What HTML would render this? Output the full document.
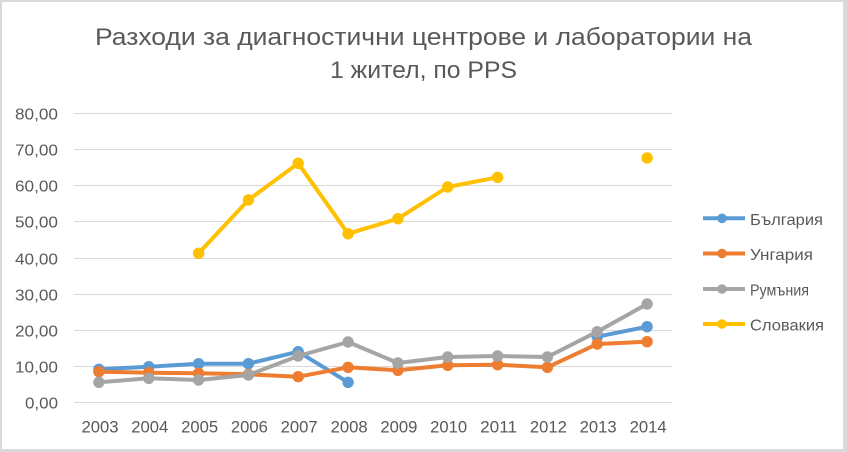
<!DOCTYPE html>
<html>
<head>
<meta charset="utf-8">
<style>
  html,body{margin:0;padding:0;background:#fff;}
  body{width:847px;height:452px;overflow:hidden;}
  svg{display:block;}
  text{font-family:"Liberation Sans","DejaVu Sans",sans-serif;fill:#595959;}
</style>
</head>
<body>
<svg width="847" height="452" viewBox="0 0 847 452" xmlns="http://www.w3.org/2000/svg">
  <!-- background + border -->
  <rect x="0" y="0" width="847" height="452" fill="#d9d9d9"/>
  <rect x="2" y="2" width="841" height="447" fill="#ffffff"/>

  <!-- title -->
  <text x="423.5" y="45" font-size="24" text-anchor="middle" textLength="657" lengthAdjust="spacingAndGlyphs">Разходи за диагностични центрове и лаборатории на</text>
  <text x="423.5" y="78" font-size="24" text-anchor="middle" textLength="187" lengthAdjust="spacingAndGlyphs">1 жител, по PPS</text>

  <!-- gridlines -->
  <g stroke="#d9d9d9" stroke-width="1">
    <line x1="74" x2="672" y1="113.5" y2="113.5"/>
    <line x1="74" x2="672" y1="149.5" y2="149.5"/>
    <line x1="74" x2="672" y1="185.5" y2="185.5"/>
    <line x1="74" x2="672" y1="221.5" y2="221.5"/>
    <line x1="74" x2="672" y1="258.5" y2="258.5"/>
    <line x1="74" x2="672" y1="294.5" y2="294.5"/>
    <line x1="74" x2="672" y1="330.5" y2="330.5"/>
    <line x1="74" x2="672" y1="366.5" y2="366.5"/>
    <line x1="74" x2="672" y1="402.5" y2="402.5"/>
  </g>

  <!-- y labels -->
  <g font-size="16" text-anchor="end">
    <text x="58" y="119.5" textLength="43" lengthAdjust="spacingAndGlyphs">80,00</text>
    <text x="58" y="155.5" textLength="43" lengthAdjust="spacingAndGlyphs">70,00</text>
    <text x="58" y="191.5" textLength="43" lengthAdjust="spacingAndGlyphs">60,00</text>
    <text x="58" y="227.5" textLength="43" lengthAdjust="spacingAndGlyphs">50,00</text>
    <text x="58" y="264.5" textLength="43" lengthAdjust="spacingAndGlyphs">40,00</text>
    <text x="58" y="300.5" textLength="43" lengthAdjust="spacingAndGlyphs">30,00</text>
    <text x="58" y="336.5" textLength="43" lengthAdjust="spacingAndGlyphs">20,00</text>
    <text x="58" y="372.5" textLength="43" lengthAdjust="spacingAndGlyphs">10,00</text>
    <text x="58" y="408.5" textLength="33" lengthAdjust="spacingAndGlyphs">0,00</text>
  </g>

  <!-- x labels -->
  <g font-size="16.5" text-anchor="middle">
    <text x="100" y="432.5" textLength="37" lengthAdjust="spacingAndGlyphs">2003</text>
    <text x="149.8" y="432.5" textLength="37" lengthAdjust="spacingAndGlyphs">2004</text>
    <text x="199.6" y="432.5" textLength="37" lengthAdjust="spacingAndGlyphs">2005</text>
    <text x="249.4" y="432.5" textLength="37" lengthAdjust="spacingAndGlyphs">2006</text>
    <text x="299.2" y="432.5" textLength="37" lengthAdjust="spacingAndGlyphs">2007</text>
    <text x="349.1" y="432.5" textLength="37" lengthAdjust="spacingAndGlyphs">2008</text>
    <text x="398.9" y="432.5" textLength="37" lengthAdjust="spacingAndGlyphs">2009</text>
    <text x="448.7" y="432.5" textLength="37" lengthAdjust="spacingAndGlyphs">2010</text>
    <text x="498.6" y="432.5" textLength="37" lengthAdjust="spacingAndGlyphs">2011</text>
    <text x="548.4" y="432.5" textLength="37" lengthAdjust="spacingAndGlyphs">2012</text>
    <text x="598.2" y="432.5" textLength="37" lengthAdjust="spacingAndGlyphs">2013</text>
    <text x="648.1" y="432.5" textLength="37" lengthAdjust="spacingAndGlyphs">2014</text>
  </g>

  <!-- Bulgaria -->
  <g stroke="#5b9bd5" fill="#5b9bd5">
    <polyline fill="none" stroke-width="4" stroke-linejoin="round" points="98.9,369.3 148.8,366.7 198.6,363.7 248.4,363.7 298.2,351.7 348.1,382.3"/>
    <polyline fill="none" stroke-width="4" stroke-linejoin="round" points="597.2,336.7 647.1,326.7"/>
    <g stroke="none">
      <circle cx="98.9" cy="369.3" r="5.7"/>
      <circle cx="148.8" cy="366.7" r="5.7"/>
      <circle cx="198.6" cy="363.7" r="5.7"/>
      <circle cx="248.4" cy="363.7" r="5.7"/>
      <circle cx="298.2" cy="351.7" r="5.7"/>
      <circle cx="348.1" cy="382.3" r="5.7"/>
      <circle cx="597.2" cy="336.7" r="5.7"/>
      <circle cx="647.1" cy="326.7" r="5.7"/>
    </g>
  </g>

  <!-- Hungary -->
  <g fill="#ed7d31">
    <polyline fill="none" stroke="#ed7d31" stroke-width="4" stroke-linejoin="round" points="98.9,371.7 148.8,372.7 198.6,373.3 248.4,374.3 298.2,376.7 348.1,367.3 397.9,370.3 447.7,365.3 497.6,364.7 547.4,367.3 597.2,344 647.1,341.7"/>
    <circle cx="98.9" cy="371.7" r="5.7"/>
    <circle cx="148.8" cy="372.7" r="5.7"/>
    <circle cx="198.6" cy="373.3" r="5.7"/>
    <circle cx="248.4" cy="374.3" r="5.7"/>
    <circle cx="298.2" cy="376.7" r="5.7"/>
    <circle cx="348.1" cy="367.3" r="5.7"/>
    <circle cx="397.9" cy="370.3" r="5.7"/>
    <circle cx="447.7" cy="365.3" r="5.7"/>
    <circle cx="497.6" cy="364.7" r="5.7"/>
    <circle cx="547.4" cy="367.3" r="5.7"/>
    <circle cx="597.2" cy="344" r="5.7"/>
    <circle cx="647.1" cy="341.7" r="5.7"/>
  </g>

  <!-- Romania -->
  <g fill="#a5a5a5">
    <polyline fill="none" stroke="#a5a5a5" stroke-width="4" stroke-linejoin="round" points="98.9,382.3 148.8,378.3 198.6,380 248.4,375 298.2,356 348.1,342 397.9,363 447.7,357 497.6,356 547.4,357 597.2,331.7 647.1,304"/>
    <circle cx="98.9" cy="382.3" r="5.7"/>
    <circle cx="148.8" cy="378.3" r="5.7"/>
    <circle cx="198.6" cy="380" r="5.7"/>
    <circle cx="248.4" cy="375" r="5.7"/>
    <circle cx="298.2" cy="356" r="5.7"/>
    <circle cx="348.1" cy="342" r="5.7"/>
    <circle cx="397.9" cy="363" r="5.7"/>
    <circle cx="447.7" cy="357" r="5.7"/>
    <circle cx="497.6" cy="356" r="5.7"/>
    <circle cx="547.4" cy="357" r="5.7"/>
    <circle cx="597.2" cy="331.7" r="5.7"/>
    <circle cx="647.1" cy="304" r="5.7"/>
  </g>

  <!-- Slovakia -->
  <g fill="#ffc000">
    <polyline fill="none" stroke="#ffc000" stroke-width="4" stroke-linejoin="round" points="198.6,253.3 248.4,200 298.2,163.3 348.1,233.7 397.9,218.7 447.7,187 497.6,177.3"/>
    <circle cx="198.6" cy="253.3" r="5.7"/>
    <circle cx="248.4" cy="200" r="5.7"/>
    <circle cx="298.2" cy="163.3" r="5.7"/>
    <circle cx="348.1" cy="233.7" r="5.7"/>
    <circle cx="397.9" cy="218.7" r="5.7"/>
    <circle cx="447.7" cy="187" r="5.7"/>
    <circle cx="497.6" cy="177.3" r="5.7"/>
    <circle cx="647.1" cy="158" r="5.7"/>
  </g>

  <!-- legend -->
  <g>
    <line x1="703" x2="745" y1="218.3" y2="218.3" stroke="#5b9bd5" stroke-width="4"/>
    <circle cx="722" cy="218.3" r="4.8" fill="#5b9bd5"/>
    <text x="750" y="224.8" font-size="16" textLength="73" lengthAdjust="spacingAndGlyphs">България</text>

    <line x1="703" x2="745" y1="253.5" y2="253.5" stroke="#ed7d31" stroke-width="4"/>
    <circle cx="722" cy="253.5" r="4.8" fill="#ed7d31"/>
    <text x="750" y="260" font-size="16" textLength="63" lengthAdjust="spacingAndGlyphs">Унгария</text>

    <line x1="703" x2="745" y1="289" y2="289" stroke="#a5a5a5" stroke-width="4"/>
    <circle cx="722" cy="289" r="4.8" fill="#a5a5a5"/>
    <text x="750" y="295.5" font-size="16" textLength="59" lengthAdjust="spacingAndGlyphs">Румъния</text>

    <line x1="703" x2="745" y1="324" y2="324" stroke="#ffc000" stroke-width="4"/>
    <circle cx="722" cy="324" r="4.8" fill="#ffc000"/>
    <text x="750" y="330.5" font-size="16" textLength="74" lengthAdjust="spacingAndGlyphs">Словакия</text>
  </g>
</svg>
</body>
</html>
